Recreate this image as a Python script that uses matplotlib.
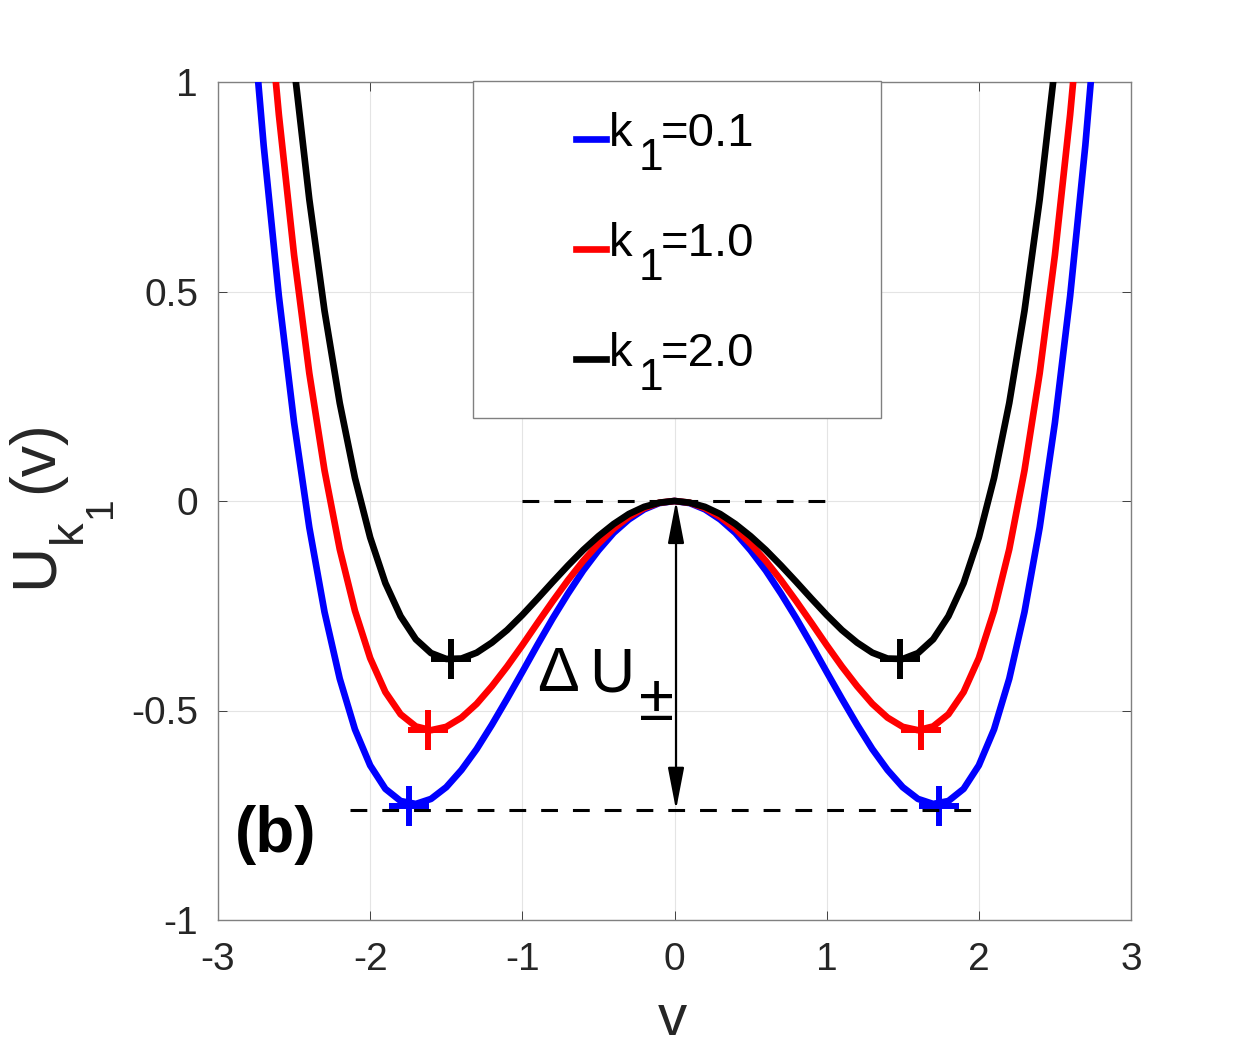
import matplotlib
matplotlib.use("Agg")
import matplotlib.pyplot as plt
from matplotlib.patches import Rectangle, FancyArrowPatch, ArrowStyle

plt.rcParams['font.family'] = ['Liberation Sans', 'DejaVu Sans']
plt.rcParams['axes.unicode_minus'] = False

# ---------------- data ----------------
v_blue = [-2.8, -2.7, -2.6, -2.5, -2.4, -2.3, -2.2, -2.1, -2.0, -1.9, -1.8, -1.7, -1.6, -1.5,
          -1.4, -1.3, -1.2, -1.1, -1.0, -0.9, -0.8, -0.7, -0.6, -0.5, -0.4, -0.3, -0.2, -0.1,
          0.0, 0.1, 0.2, 0.3, 0.4, 0.5, 0.6, 0.7, 0.8, 0.9, 1.0, 1.1, 1.2, 1.3, 1.4, 1.5,
          1.6, 1.7, 1.8, 1.9, 2.0, 2.1, 2.2, 2.3, 2.4, 2.5, 2.6, 2.7, 2.8]
U_blue = [1.273, 0.849, 0.489, 0.187, -0.063, -0.265, -0.424, -0.545, -0.631, -0.687, -0.716,
          -0.723, -0.711, -0.683, -0.642, -0.592, -0.534, -0.472, -0.408, -0.343, -0.280,
          -0.221, -0.166, -0.118, -0.076, -0.044, -0.020, -0.005,
          0.0,
          -0.005, -0.020, -0.044, -0.076, -0.118, -0.166, -0.221, -0.280, -0.343, -0.408,
          -0.472, -0.534, -0.592, -0.642, -0.683, -0.711, -0.723, -0.716, -0.687, -0.631,
          -0.545, -0.424, -0.265, -0.063, 0.187, 0.489, 0.849, 1.273]

v_red = [-2.7, -2.6, -2.5, -2.4, -2.3, -2.2, -2.1, -2.0, -1.9, -1.8, -1.7, -1.6, -1.5,
         -1.4, -1.3, -1.2, -1.1, -1.0, -0.9, -0.8, -0.7, -0.6, -0.5, -0.4, -0.3, -0.2, -0.1,
         0.0, 0.1, 0.2, 0.3, 0.4, 0.5, 0.6, 0.7, 0.8, 0.9, 1.0, 1.1, 1.2, 1.3, 1.4, 1.5,
         1.6, 1.7, 1.8, 1.9, 2.0, 2.1, 2.2, 2.3, 2.4, 2.5, 2.6, 2.7]
U_red = [1.316, 0.922, 0.587, 0.305, 0.073, -0.115, -0.262, -0.375, -0.456, -0.509, -0.538,
         -0.547, -0.539, -0.517, -0.484, -0.442, -0.395, -0.344, -0.291, -0.239, -0.189,
         -0.143, -0.102, -0.066, -0.038, -0.017, -0.004,
         0.0,
         -0.004, -0.017, -0.038, -0.066, -0.102, -0.143, -0.189, -0.239, -0.291, -0.344,
         -0.395, -0.442, -0.484, -0.517, -0.539, -0.547, -0.538, -0.509, -0.456, -0.375,
         -0.262, -0.115, 0.073, 0.305, 0.587, 0.922, 1.316]

v_black = [-2.5, -2.4, -2.3, -2.2, -2.1, -2.0, -1.9, -1.8, -1.7, -1.6, -1.5,
           -1.4, -1.3, -1.2, -1.1, -1.0, -0.9, -0.8, -0.7, -0.6, -0.5, -0.4, -0.3, -0.2, -0.1,
           0.0, 0.1, 0.2, 0.3, 0.4, 0.5, 0.6, 0.7, 0.8, 0.9, 1.0, 1.1, 1.2, 1.3, 1.4, 1.5,
           1.6, 1.7, 1.8, 1.9, 2.0, 2.1, 2.2, 2.3, 2.4, 2.5]
U_black = [1.037, 0.720, 0.454, 0.234, 0.055, -0.087, -0.196, -0.275, -0.330, -0.363, -0.377,
           -0.376, -0.362, -0.338, -0.308, -0.272, -0.233, -0.193, -0.154, -0.117, -0.084,
           -0.055, -0.031, -0.014, -0.004,
           0.0,
           -0.004, -0.014, -0.031, -0.055, -0.084, -0.117, -0.154, -0.193, -0.233, -0.272,
           -0.308, -0.338, -0.362, -0.376, -0.377, -0.363, -0.330, -0.275, -0.196, -0.087,
           0.055, 0.234, 0.454, 0.720, 1.037]

# minima markers
vmin_blue, Umin_blue = [-1.745, 1.74], [-0.729, -0.729]
vmin_red, Umin_red = [-1.62, 1.62], [-0.547, -0.547]
vmin_black, Umin_black = [-1.47, 1.485], [-0.377, -0.377]

# dashed reference lines and barrier arrow
v_top_dash, U_top_dash = [-1.0, 1.0], [0.0, 0.0]
v_bot_dash, U_bot_dash = [-2.13, 1.97], [-0.737, -0.737]
arrow_v, arrow_U = 0.01, [0.0, -0.737]

legend_values = ['=0.1', '=1.0', '=2.0']
xticks = [-3, -2, -1, 0, 1, 2, 3]
xticklabels = ['-3', '-2', '-1', '0', '1', '2', '3']
yticks = [-1, -0.5, 0, 0.5, 1]
yticklabels = ['-1', '-0.5', '0', '0.5', '1']

# ---------------- figure ----------------
fig = plt.figure(figsize=(12.51, 10.51), dpi=100)
ax = fig.add_axes([218 / 1251, 1 - 920 / 1051, 913 / 1251, 838 / 1051])

lw = 4.8
l1, = ax.plot(v_blue, U_blue, color='#0000ff', lw=lw, zorder=3)
l2, = ax.plot(v_red, U_red, color='#ff0000', lw=lw, zorder=3)
l3, = ax.plot(v_black, U_black, color='black', lw=lw, zorder=3)

ax.plot(vmin_blue, Umin_blue, ls='none', marker='+', ms=29, mew=4.3, color='#0000ff', zorder=4)
ax.plot(vmin_red, Umin_red, ls='none', marker='+', ms=29, mew=4.3, color='#ff0000', zorder=4)
ax.plot(vmin_black, Umin_black, ls='none', marker='+', ms=29, mew=4.3, color='black', zorder=4)

ax.plot(v_top_dash, U_top_dash, color='black', lw=2.2, ls=(0, (5.5, 4.9)), zorder=4)
ax.plot(v_bot_dash, U_bot_dash, color='black', lw=2.2, ls=(0, (5.5, 4.9)), zorder=4)

arr = FancyArrowPatch((arrow_v, arrow_U[0]), (arrow_v, arrow_U[1]),
                      arrowstyle=ArrowStyle('<|-|>', head_length=26, head_width=5),
                      mutation_scale=1, lw=1.6, color='black', shrinkA=0, shrinkB=0, zorder=5)
ax.add_patch(arr)

ax.set_xlim(-3, 3)
ax.set_ylim(-1, 1)
ax.set_xticks(xticks)
ax.set_xticklabels(xticklabels)
ax.set_yticks(yticks)
ax.set_yticklabels(yticklabels)
ax.tick_params(direction='in', length=6.5, width=0.7, color='#404040',
               labelsize=28, labelcolor='#262626', top=True, right=True)
ax.tick_params(axis='x', pad=15.5)
ax.tick_params(axis='y', pad=14.4)
ax.grid(True, color='#e4e4e4', lw=0.8)
ax.set_axisbelow(True)
for s in ax.spines.values():
    s.set_color('#808080')
    s.set_linewidth(1.0)

# x label
ax.set_xlabel('v', fontsize=42, color='#262626', va='baseline')
ax.xaxis.set_label_coords(0.4973, -0.1372)

# y label U_{k_1}(v) built from pieces
tU = ax.annotate('U', xy=(65, 1051 - 588), xycoords='figure pixels', rotation=90,
                 fontsize=45, color='#262626', ha='right', va='bottom', annotation_clip=False)
tk = ax.annotate('k', xy=(1, 1), xycoords=tU, xytext=(26, 0), textcoords='offset pixels',
                 rotation=90, fontsize=34, color='#262626', ha='right', va='bottom', zorder=6)
t1 = ax.annotate('1', xy=(1, 1), xycoords=tk, xytext=(28, 1), textcoords='offset pixels',
                 rotation=90, fontsize=28, color='#262626', ha='right', va='bottom', zorder=7)
tv = ax.annotate('(v)', xy=(1, 1), xycoords=tU, xytext=(0, 50), textcoords='offset pixels',
                 rotation=90, fontsize=45, color='#262626', ha='right', va='bottom', zorder=6)

# legend
box = Rectangle((0.2793, 0.599), 0.4469, 0.4022, transform=ax.transAxes, facecolor='white',
                edgecolor='#808080', lw=1.0, zorder=4.5, clip_on=False)
ax.add_patch(box)
leg = ax.legend([l1, l2, l3], ['k', 'k', 'k'], loc='upper left',
                bbox_to_anchor=(0.3921, 0.9647), frameon=False, fontsize=34,
                handlelength=0.64, handletextpad=0.05, labelspacing=1.40,
                borderpad=0, borderaxespad=0)
leg.set_zorder(5)
for h in leg.legend_handles:
    h.set_ydata([y - 7.0 for y in h.get_ydata()])
for t, val in zip(leg.get_texts(), legend_values):
    ax.annotate('1', xy=(1, 0), xycoords=t, xytext=(7, -14), textcoords='offset pixels',
                fontsize=32, ha='left', va='baseline', zorder=8)
    ax.annotate(val, xy=(1, 0), xycoords=t, xytext=(29, 0), textcoords='offset pixels',
                fontsize=34, ha='left', va='bottom', zorder=8)

# Delta U_{\pm}
tD = ax.text(-0.906, -0.4535, 'Δ', fontsize=45, ha='left', va='baseline', zorder=6)
tUU = ax.annotate('U', xy=(1, 0), xycoords=tD, xytext=(11, 0), textcoords='offset pixels',
                  fontsize=45, ha='left', va='bottom', zorder=7)
ax.annotate('±', xy=(1, 0), xycoords=tUU, xytext=(4, -16), textcoords='offset pixels',
            fontsize=46, ha='left', va='baseline', zorder=8)

# panel label
ax.text(-2.888, -0.837, '(b)', fontsize=46, fontweight='bold', ha='left', va='baseline', zorder=6)

fig.canvas.draw()
fig.savefig('out.png', dpi=100)
